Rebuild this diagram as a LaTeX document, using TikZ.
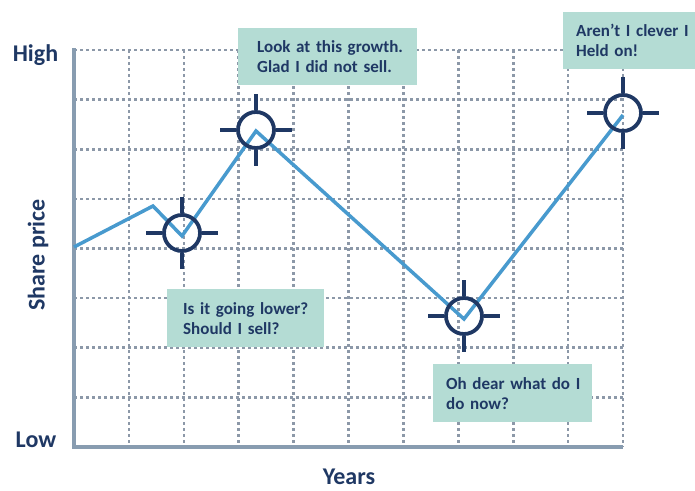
\documentclass[tikz,border=0pt]{standalone}
\usepackage{fontspec}
\setmainfont{Carlito}
\definecolor{navy}{RGB}{31,56,100}
\definecolor{lineblue}{RGB}{72,154,206}
\definecolor{boxfill}{RGB}{180,220,212}
\definecolor{griddot}{RGB}{140,152,168}
\definecolor{axisgray}{RGB}{136,156,176}
\tikzset{
  griddots/.style={griddot, line width=2.6pt, dash pattern=on 2.6pt off 3.4pt},
  axisline/.style={axisgray, line width=4pt},
  priceline/.style={lineblue, line width=3.5pt, line join=miter},
  target/.style={circle, draw=navy, line width=3.8pt, minimum size=36pt, inner sep=0pt},
  tick/.style={navy, line width=3.8pt},
  notebox/.style={fill=boxfill, anchor=north west, inner xsep=0pt, inner ysep=0pt,
    text=navy, align=left, font=\fontsize{17}{20}\selectfont\bfseries},
  axislabel/.style={text=navy, font=\fontsize{24}{28}\selectfont\bfseries, inner sep=0pt}
}
\begin{document}
\begin{tikzpicture}[x=1pt,y=-1pt]
\useasboundingbox (0,0) rectangle (695,490);
% grid
\foreach \k in {1,...,10} {
  \draw[griddots] ({74+54.9*\k},50) -- ({74+54.9*\k},447);
}
\foreach \k in {0,...,7} {
  \draw[griddots] (74,{50+49.625*\k}) -- (623,{50+49.625*\k});
}
% axes
\coordinate (top) at (74,48);
\coordinate (origin) at (74,447);
\coordinate (right) at (623,447);
\draw[axisline] (top) -- (origin) -- (right);
% price line
\coordinate (p0) at (74,247);
\coordinate (p1) at (153,206);
\coordinate (p2) at (182,236);
\coordinate (p3) at (256,131);
\coordinate (p4) at (464,319);
\coordinate (p5) at (623,115);
\draw[priceline] (p0) -- (p1) -- (p2) -- (p3) -- (p4) -- (p5);
% targets
\foreach \n/\x/\y in {c1/182/233, c2/256/130, c3/464/316, c4/623/113} {
  \node[target] (\n) at (\x,\y) {};
  \draw[tick] (\n.east) -- ++(16,0);
  \draw[tick] (\n.west) -- ++(-16,0);
  \draw[tick] (\n.north) -- ++(0,-16);
  \draw[tick] (\n.south) -- ++(0,16);
}
% note boxes
\node[notebox, minimum width=179pt, minimum height=57pt, text width=179pt] (b1) at (238,28)
  {\hspace*{19pt}Look at this growth.\\\hspace*{19pt}Glad I did not sell.};
\node[notebox, minimum width=132pt, minimum height=57pt, text width=132pt] (b2) at (563,12)
  {\hspace*{13pt}Aren’t I clever I\\\hspace*{13pt}Held on!};
\node[notebox, minimum width=157pt, minimum height=58pt, text width=157pt] (b3) at (167,289)
  {\hspace*{16pt}Is it going lower?\\\hspace*{16pt}Should I sell?};
\node[notebox, minimum width=159pt, minimum height=58pt, text width=159pt] (b4) at (433,364)
  {\hspace*{13pt}Oh dear what do I\\\hspace*{13pt}do now?};
% axis labels
\node[axislabel, anchor=base] (high) at (35.5,61) {High};
\node[axislabel, anchor=base] (low) at (36,447) {Low};
\node[axislabel, rotate=90] (share) at (38,255) {Share price};
\node[axislabel, anchor=base] (years) at (349,484) {Years};
\end{tikzpicture}
\end{document}
